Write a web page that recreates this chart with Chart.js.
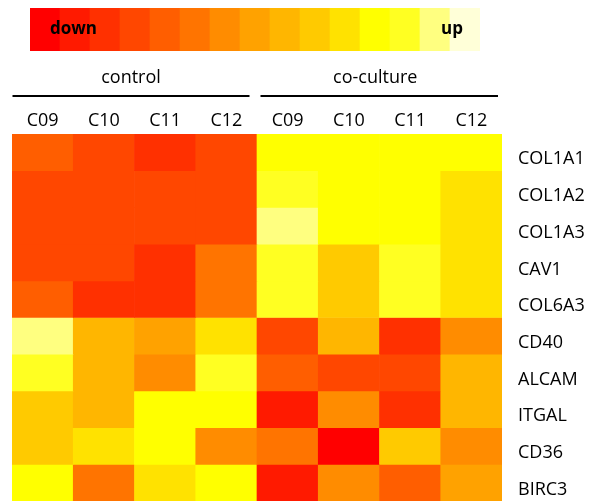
<!DOCTYPE html>
<html><head><meta charset="utf-8">
<script src="https://cdn.jsdelivr.net/npm/chart.js@4.4.1/dist/chart.umd.min.js"></script>
<style>
html,body{margin:0;padding:0;background:#fff;}
#wrap{position:relative;width:591px;height:501px;overflow:hidden;background:#fff;}
#main{position:absolute;left:0;top:0;}
#scale{position:absolute;left:30px;top:8px;}
</style></head><body>
<div id="wrap">
<canvas id="main" width="591" height="501"></canvas>
<canvas id="scale" width="450" height="43"></canvas>
</div>
<script>
// ---------- data ----------
const samples = ['C09','C10','C11','C12','C09','C10','C11','C12'];
const groups = ['control','co-culture'];
const genes = ['COL1A1','COL1A2','COL1A3','CAV1','COL6A3','CD40','ALCAM','ITGAL','CD36','BIRC3'];
// colour scale, from most "down" (index 0) to most "up" (index 14)
const palette = ['#FF0000','#FF1A00','#FF3000','#FF4700','#FF5E00','#FF7400','#FF8C00','#FFA200',
                 '#FFB600','#FFCA00','#FFE200','#FFFF00','#FFFF22','#FFFF80','#FFFFD8'];
const scaleLabels = ['down','up'];
// expression level (index into palette) per gene, columns in sample order
const COL1A1 = [4,3,2,3,11,11,11,11];
const COL1A2 = [3,3,3,3,12,11,11,10];
const COL1A3 = [3,3,3,3,13,11,11,10];
const CAV1   = [3,3,2,5,12,9,12,10];
const COL6A3 = [4,2,2,5,12,9,12,10];
const CD40   = [13,8,7,10,3,8,2,6];
const ALCAM  = [12,8,6,12,4,3,3,8];
const ITGAL  = [9,8,11,11,1,6,2,8];
const CD36   = [9,10,11,6,5,0,9,6];
const BIRC3  = [11,5,10,11,1,6,4,7];
const levels = [COL1A1,COL1A2,COL1A3,CAV1,COL6A3,CD40,ALCAM,ITGAL,CD36,BIRC3];

const FONT = 'Open Sans';
const TEXT = '#000';

// ---------- heatmap ----------
const datasets = genes.map((g, r) => ({
  label: g,
  data: levels[r].map(() => [r, r + 1]),
  backgroundColor: levels[r].map(l => palette[l]),
  borderWidth: 0,
  barPercentage: 1,
  categoryPercentage: 1,
  grouped: false
}));

const groupPlugin = {
  id: 'groupHeader',
  afterDraw(chart) {
    const x = chart.scales.x;
    const ctx = chart.ctx;
    const per = samples.length / groups.length;
    const colW = x.getPixelForValue(1) - x.getPixelForValue(0);
    ctx.save();
    groups.forEach((g, gi) => {
      const left = x.getPixelForValue(gi * per) - colW / 2;
      const right = x.getPixelForValue(gi * per + per - 1) + colW / 2;
      const l = left + (gi === 0 ? 0.5 : 3.5);
      const r = right - (gi === 0 ? 7.5 : 4);
      ctx.strokeStyle = TEXT;
      ctx.lineWidth = 2;
      ctx.beginPath();
      ctx.moveTo(l, 96);
      ctx.lineTo(r, 96);
      ctx.stroke();
      ctx.fillStyle = TEXT;
      ctx.font = '18px "' + FONT + '"';
      ctx.textAlign = 'center';
      ctx.textBaseline = 'alphabetic';
      ctx.fillText(g, (l + r) / 2 - (gi === 0 ? 0 : 4), 83);
    });
    ctx.restore();
  }
};

new Chart(document.getElementById('main'), {
  type: 'bar',
  data: { labels: samples, datasets },
  options: {
    responsive: false,
    animation: false,
    devicePixelRatio: 1,
    layout: { padding: { left: 12, top: 0, right: 0, bottom: 0 } },
    plugins: { legend: { display: false }, tooltip: { enabled: false } },
    scales: {
      x: {
        type: 'category',
        position: 'top',
        grid: { display: false, drawTicks: false },
        border: { display: false },
        ticks: { font: { family: FONT, size: 18 }, color: TEXT, padding: 2, maxRotation: 0, autoSkip: false },
        afterFit: s => { s.height = 134; s.paddingLeft = 0; s.paddingRight = 0; }
      },
      y: { type: 'linear', min: 0, max: genes.length, reverse: true, display: false },
      yR: {
        type: 'linear',
        position: 'right',
        min: 0, max: genes.length, reverse: true,
        afterBuildTicks: s => { s.ticks = genes.map((g, i) => ({ value: i + 0.5 })); },
        grid: { display: false, drawTicks: false },
        border: { display: false },
        ticks: {
          font: { family: FONT, size: 18 }, color: TEXT, padding: 16, labelOffset: 7, autoSkip: false,
          callback: v => genes[Math.floor(v)]
        },
        afterFit: s => { s.width = 89; s.paddingTop = 0; s.paddingBottom = 0; }
      }
    }
  },
  plugins: [groupPlugin]
});

// ---------- colour scale legend ----------
const scaleText = {
  id: 'scaleText',
  afterDraw(chart) {
    const ctx = chart.ctx, a = chart.chartArea;
    ctx.save();
    ctx.fillStyle = TEXT;
    ctx.font = 'bold 17px "' + FONT + '"';
    ctx.textBaseline = 'alphabetic';
    ctx.textAlign = 'left';
    ctx.fillText(scaleLabels[0], a.left + 20, 25.5);
    ctx.textAlign = 'right';
    ctx.fillText(scaleLabels[1], a.right - 17, 25.5);
    ctx.restore();
  }
};

new Chart(document.getElementById('scale'), {
  type: 'bar',
  data: {
    labels: palette.map((c, i) => i),
    datasets: [{ data: palette.map(() => 1), backgroundColor: palette, borderWidth: 0,
                 barPercentage: 1, categoryPercentage: 1 }]
  },
  options: {
    responsive: false,
    animation: false,
    devicePixelRatio: 1,
    layout: { padding: 0 },
    plugins: { legend: { display: false }, tooltip: { enabled: false } },
    scales: { x: { display: false }, y: { display: false, min: 0, max: 1 } }
  },
  plugins: [scaleText]
});
</script>
</body></html>
